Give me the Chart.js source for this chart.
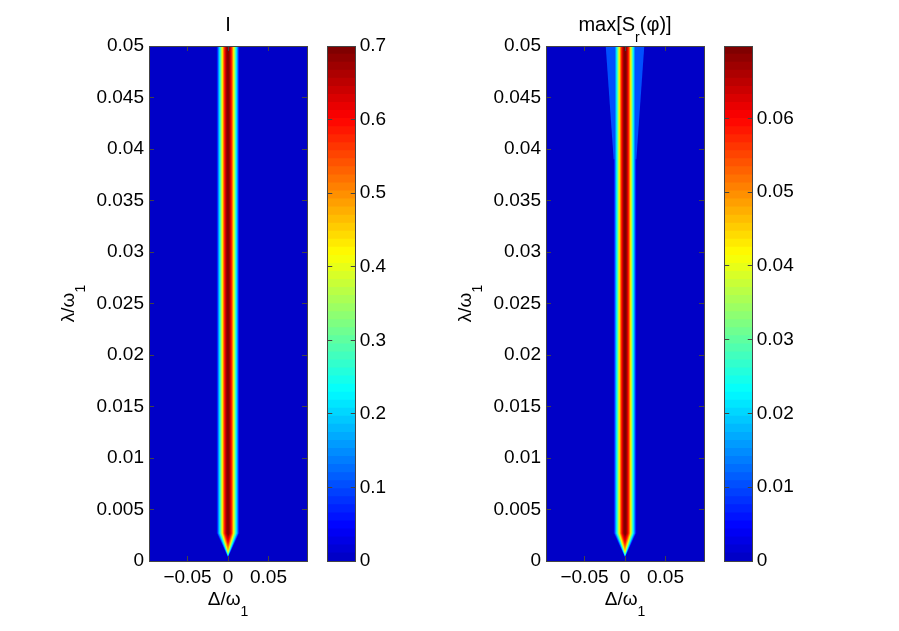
<!DOCTYPE html>
<html>
<head>
<meta charset="utf-8">
<script src="https://cdn.jsdelivr.net/npm/chart.js@4.4.1/dist/chart.umd.min.js"></script>
<style>
  html, body { margin: 0; padding: 0; background: #fff; }
  #fig { position: relative; width: 899px; height: 631px; overflow: hidden; }
  #fig canvas { position: absolute; top: 0; }
</style>
</head>
<body>
<div id="fig">
  <canvas id="mapI" width="320" height="631" style="left:0px"></canvas>
  <canvas id="barI" width="100" height="631" style="left:317px"></canvas>
  <canvas id="mapS" width="320" height="631" style="left:397px"></canvas>
  <canvas id="barS" width="100" height="631" style="left:714px"></canvas>
</div>
<script>
// Two contourf panels (I and max[S_r(phi)]) over detuning / coupling, each with a jet colorbar.

// axes
const xMin = -0.0975, xMax = 0.0975;
const yMin = 0, yMax = 0.05;
const xTickValues = [-0.05, 0, 0.05];
const xTickLabels = ['\u22120.05', '0', '0.05'];
const yTickValues = [0, 0.005, 0.01, 0.015, 0.02, 0.025, 0.03, 0.035, 0.04, 0.045, 0.05];
const yTickLabels = ['0', '0.005', '0.01', '0.015', '0.02', '0.025', '0.03', '0.035', '0.04', '0.045', '0.05'];

// cross-section of the ridge at Delta = 0 (|Delta|/omega_1 -> value)
const ridgeDelta = [0, 0.0015, 0.003, 0.0045, 0.006, 0.0075, 0.009, 0.0105, 0.012, 0.0135, 0.015];
const ridgeI = [0.70, 0.68, 0.63, 0.56, 0.47, 0.38, 0.29, 0.20, 0.13, 0.03, 0];
const ridgeS = [0.0698, 0.068, 0.063, 0.056, 0.047, 0.038, 0.029, 0.020, 0.013, 0.003, 0];

// where the ridge closes near lambda = 0 (fraction of the peak -> lambda/omega_1)
const onsetFrac = [0, 0.07, 0.36, 0.64, 0.86, 1];
const onsetLambda = [0.0003, 0.0004, 0.0006, 0.001, 0.0018, 0.0026];
const onsetShoulder = 0.0027;

// faint low plateau of max[S_r] that widens towards large lambda
const wedgeLambda = [0.039, 0.05];
const wedgeHalfWidth = [0.014, 0.0238];
const wedgeValue = 0.01;

// colorbars
const nColors = 64;
const cbarIMax = 0.7;
const cbarITicks = [0, 0.1, 0.2, 0.3, 0.4, 0.5, 0.6, 0.7];
const cbarILabels = ['0', '0.1', '0.2', '0.3', '0.4', '0.5', '0.6', '0.7'];
const cbarSMax = 0.0698;
const cbarSTicks = [0, 0.01, 0.02, 0.03, 0.04, 0.05, 0.06];
const cbarSLabels = ['0', '0.01', '0.02', '0.03', '0.04', '0.05', '0.06'];

const FONT = '"Liberation Sans", Arial, Helvetica, sans-serif';
const MAIN_FONT = '19px ' + FONT;
const TITLE_FONT = '20px ' + FONT;
const SUB_FONT = '14px ' + FONT;
const SUB_DROP = 11;
const LINE = '#444';

Chart.defaults.font.family = FONT;
Chart.defaults.font.size = 19;
Chart.defaults.color = '#000';

function jetColor(t) {
  const s = 0.07 + 0.93 * t;
  const c = (v) => Math.round(255 * Math.min(1, Math.max(0, 1.5 - Math.abs(4 * s - v))));
  return `rgb(${c(3)},${c(2)},${c(1)})`;
}
const bandColors = Array.from({ length: nColors }, (_, k) => jetColor(k / (nColors - 1)));

function interp(xs, ys, x) {
  for (let i = 1; i < xs.length; i++) {
    if (x <= xs[i]) {
      const f = (x - xs[i - 1]) / (xs[i] - xs[i - 1]);
      return ys[i - 1] + f * (ys[i] - ys[i - 1]);
    }
  }
  return ys[ys.length - 1];
}

// half width of the region where the ridge exceeds `level`
function halfWidthAt(values, level) {
  for (let i = 1; i < values.length; i++) {
    if (values[i] <= level) {
      const f = (values[i - 1] - level) / (values[i - 1] - values[i]);
      return ridgeDelta[i - 1] + f * (ridgeDelta[i] - ridgeDelta[i - 1]);
    }
  }
  return ridgeDelta[ridgeDelta.length - 1];
}

function buildRegions(values, vmax, withWedge) {
  const regions = [{
    level: 0, band: 0,
    points: [{ x: xMin, y: yMax }, { x: xMin, y: yMin }, { x: xMax, y: yMin }, { x: xMax, y: yMax }],
  }];
  for (let k = 1; k < nColors; k++) {
    const level = k * vmax / nColors;
    if (level >= values[0]) break;
    const w = halfWidthAt(values, level);
    const tip = interp(onsetFrac, onsetLambda, level / vmax);
    regions.push({
      level, band: k,
      points: [{ x: -w, y: yMax }, { x: -w, y: onsetShoulder }, { x: 0, y: tip },
               { x: w, y: onsetShoulder }, { x: w, y: yMax }],
    });
  }
  if (withWedge) {
    regions.push({
      level: wedgeValue, band: Math.floor(wedgeValue / vmax * nColors),
      points: [{ x: -wedgeHalfWidth[1], y: wedgeLambda[1] }, { x: -wedgeHalfWidth[0], y: wedgeLambda[0] },
               { x: wedgeHalfWidth[0], y: wedgeLambda[0] }, { x: wedgeHalfWidth[1], y: wedgeLambda[1] }],
    });
  }
  regions.sort((a, b) => a.level - b.level);
  // dataset 0 is painted last, so the highest level goes first
  return regions.reverse();
}

function drawRich(ctx, parts, cx, baseline, mainFont) {
  let total = 0;
  const widths = parts.map((p) => {
    ctx.font = p.sub ? SUB_FONT : mainFont;
    const w = ctx.measureText(p.text).width;
    total += w;
    return w;
  });
  let x = cx - total / 2;
  ctx.textAlign = 'left';
  ctx.textBaseline = 'alphabetic';
  parts.forEach((p, i) => {
    ctx.font = p.sub ? SUB_FONT : mainFont;
    ctx.fillText(p.text, x, baseline + (p.sub ? SUB_DROP : 0));
    x += widths[i];
  });
}

const panelText = {
  id: 'panelText',
  afterDraw(chart, args, opts) {
    const { ctx, chartArea: a } = chart;
    const cx = (a.left + a.right) / 2;
    ctx.save();
    ctx.fillStyle = '#000';
    drawRich(ctx, opts.title, cx, 30.5, TITLE_FONT);
    drawRich(ctx, opts.xLabel, cx, 605, MAIN_FONT);
    ctx.translate(a.left - 75, (a.top + a.bottom) / 2);
    ctx.rotate(-Math.PI / 2);
    drawRich(ctx, opts.yLabel, 0, 0, MAIN_FONT);
    ctx.restore();
  },
};

function fixedTicks(values) {
  return (scale) => { scale.ticks = values.map((v) => ({ value: v })); };
}

// an axis that only carries the frame and inward tick marks
function frameAxis(position, min, max, tickValues, size) {
  const horizontal = position === 'top' || position === 'bottom';
  return {
    type: 'linear', position, min, max,
    afterBuildTicks: fixedTicks(tickValues),
    afterFit: (s) => { if (horizontal) s.height = size; else s.width = size; },
    ticks: { display: false },
    grid: { drawOnChartArea: false, drawTicks: tickValues.length > 0, tickLength: -5, tickColor: LINE, z: 1 },
    border: { display: true, color: LINE, z: 1 },
  };
}

function labelledAxis(position, min, max, tickValues, tickLabels, size, padding) {
  const ax = frameAxis(position, min, max, tickValues, size);
  ax.ticks = { display: true, autoSkip: false, maxRotation: 0, padding, callback: (v, i) => tickLabels[i] };
  return ax;
}

function heatmap(id, values, vmax, withWedge, title) {
  const regions = buildRegions(values, vmax, withWedge);
  return new Chart(document.getElementById(id), {
    type: 'scatter',
    data: {
      datasets: regions.map((r) => ({
        data: r.points,
        showLine: true,
        fill: 'shape',
        backgroundColor: bandColors[r.band],
        borderWidth: 0,
        pointRadius: 0,
        pointHoverRadius: 0,
      })),
    },
    options: {
      responsive: false,
      animation: false,
      events: [],
      layout: { padding: { top: 46, right: 13, left: 0, bottom: 0 } },
      scales: {
        x: labelledAxis('bottom', xMin, xMax, xTickValues, xTickLabels, 70, 10),
        y: labelledAxis('left', yMin, yMax, yTickValues, yTickLabels, 149, 10),
        xTop: frameAxis('top', xMin, xMax, xTickValues, 0),
        yRight: frameAxis('right', yMin, yMax, yTickValues, 0),
      },
      plugins: {
        legend: { display: false },
        tooltip: { enabled: false },
        panelText: {
          title,
          xLabel: [{ text: '\u0394/\u03c9' }, { text: '1', sub: true }],
          yLabel: [{ text: '\u03bb/\u03c9' }, { text: '1', sub: true }],
        },
      },
    },
    plugins: [panelText],
  });
}

function colorbar(id, vmax, tickValues, tickLabels) {
  const tops = bandColors.map((_, k) => (k + 1) * vmax / nColors);
  return new Chart(document.getElementById(id), {
    type: 'bar',
    data: {
      labels: [''],
      // overlapping bars from 0, lowest band painted last: no seams between bands
      datasets: tops.map((top, k) => ({
        data: [top],
        backgroundColor: bandColors[k],
        borderWidth: 0,
      })),
    },
    options: {
      responsive: false,
      animation: false,
      events: [],
      layout: { padding: { top: 46, bottom: 70, left: 0, right: 0 } },
      datasets: { bar: { grouped: false, barPercentage: 1, categoryPercentage: 1 } },
      scales: {
        x: {
          type: 'category', position: 'bottom',
          afterFit: (s) => { s.height = 0; },
          ticks: { display: false },
          grid: { display: false },
          border: { display: true, color: LINE, z: 1 },
        },
        xTop: frameAxis('top', 0, 1, [], 0),
        y: labelledAxis('right', 0, vmax, tickValues, tickLabels, 61.25, 9),
        yLeft: frameAxis('left', 0, vmax, tickValues, 10.25),
      },
      plugins: { legend: { display: false }, tooltip: { enabled: false } },
    },
  });
}

heatmap('mapI', ridgeI, cbarIMax, false, [{ text: 'I' }]);
colorbar('barI', cbarIMax, cbarITicks, cbarILabels);
heatmap('mapS', ridgeS, cbarSMax, true,
  [{ text: 'max[S' }, { text: 'r', sub: true }, { text: '(\u03c6)]' }]);
colorbar('barS', cbarSMax, cbarSTicks, cbarSLabels);
</script>
</body>
</html>
